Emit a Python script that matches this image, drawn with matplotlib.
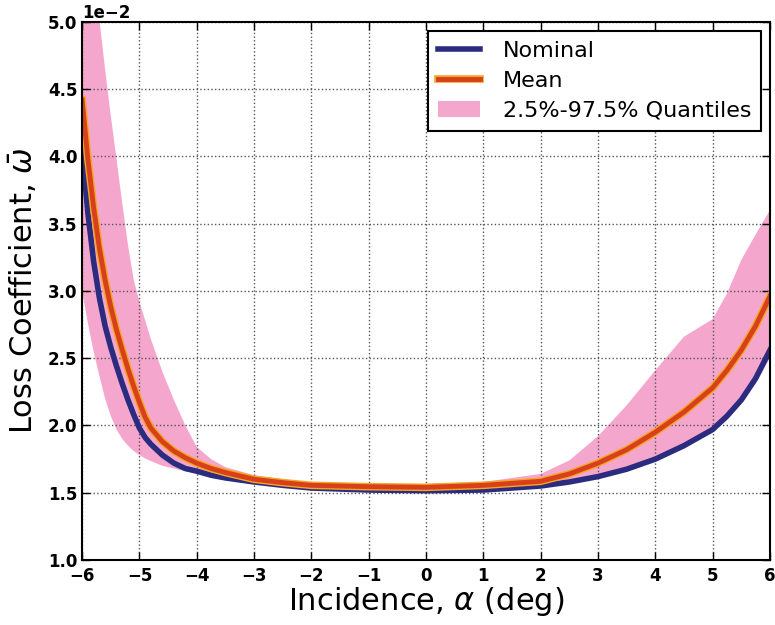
import matplotlib
matplotlib.use("Agg")
import matplotlib.pyplot as plt
import matplotlib.patheffects as pe
import numpy as np

# incidence angle (deg)
alpha = [-6, -5.9, -5.8, -5.7, -5.6, -5.5, -5.4, -5.3, -5.2, -5.1, -5, -4.9, -4.8,
         -4.6, -4.4, -4.2, -4, -3.75, -3.5, -3, -2.5, -2, -1, 0, 1, 2, 2.5, 3,
         3.5, 4, 4.5, 5, 5.25, 5.5, 5.75, 6]
# loss coefficient values (x1e-2)
nominal = [4.05, 3.58, 3.22, 2.95, 2.74, 2.58, 2.44, 2.31, 2.19, 2.08, 1.98, 1.91, 1.86,
           1.78, 1.72, 1.68, 1.66, 1.63, 1.61, 1.58, 1.555, 1.535, 1.52, 1.515, 1.52, 1.55, 1.58, 1.62,
           1.675, 1.75, 1.85, 1.97, 2.07, 2.19, 2.35, 2.56]
mean = [4.42, 3.98, 3.62, 3.32, 3.08, 2.88, 2.71, 2.56, 2.42, 2.29, 2.17, 2.06, 1.98,
        1.88, 1.81, 1.76, 1.72, 1.68, 1.65, 1.60, 1.575, 1.555, 1.545, 1.54, 1.555, 1.585, 1.64, 1.72,
        1.82, 1.95, 2.10, 2.28, 2.41, 2.56, 2.74, 2.96]
q_low = [3.0, 2.76, 2.55, 2.37, 2.2, 2.07, 1.97, 1.90, 1.85, 1.81, 1.78, 1.755, 1.735,
         1.70, 1.68, 1.66, 1.645, 1.62, 1.60, 1.57, 1.55, 1.53, 1.515, 1.51, 1.515, 1.545, 1.57, 1.61,
         1.66, 1.74, 1.83, 1.95, 2.04, 2.16, 2.31, 2.5]
q_high = [6.2, 5.75, 5.35, 5.02, 4.65, 4.3, 3.98, 3.65, 3.34, 3.08, 2.92, 2.78, 2.64,
          2.40, 2.19, 2.0, 1.84, 1.75, 1.69, 1.63, 1.60, 1.575, 1.56, 1.565, 1.58, 1.64, 1.74, 1.92,
          2.15, 2.41, 2.66, 2.79, 2.98, 3.23, 3.42, 3.6]

x = np.array(alpha)
scale = 1e-2

fig = plt.figure(figsize=(7.75, 6.25), dpi=100)
ax = fig.add_axes([0.106, 0.104, 0.8875, 0.861])

ax.fill_between(x, np.array(q_low) * scale, np.array(q_high) * scale,
                color='#f080b8', alpha=0.7, linewidth=0, label='2.5%-97.5% Quantiles')
ax.plot(x, np.array(nominal) * scale, color='#2b2b80', lw=4, label='Nominal',
        solid_joinstyle='round')
ax.plot(x, np.array(mean) * scale, color='#d8401c', lw=3.5, label='Mean',
        solid_joinstyle='round',
        path_effects=[pe.Stroke(linewidth=5.5, foreground='#f5a623'), pe.Normal()])

ax.set_xlim(-6, 6)
ax.set_ylim(0.01, 0.05)
ax.set_xticks(range(-6, 7))
ax.set_yticks(np.arange(0.01, 0.0501, 0.005))
ax.ticklabel_format(axis='y', style='sci', scilimits=(-2, -2))
ax.yaxis.get_offset_text().set_fontsize(12)
ax.yaxis.get_offset_text().set_fontweight('bold')

ax.grid(True, color='#555555', linestyle=':', linewidth=1)
ax.tick_params(direction='in', length=6, width=1, top=True, right=True, labelsize=12)
ax.tick_params(axis='x', pad=5)
for lbl in ax.get_xticklabels() + ax.get_yticklabels():
    lbl.set_fontweight('bold')
for s in ax.spines.values():
    s.set_linewidth(1.5)

ax.set_xlabel(r'Incidence, $\alpha$ (deg)', fontsize=22, labelpad=0)
ax.set_ylabel(r'Loss Coefficient, $\bar{\omega}$', fontsize=22, labelpad=6)

handles, labels = ax.get_legend_handles_labels()
order = [1, 2, 0]
leg = ax.legend([handles[i] for i in order], [labels[i] for i in order],
                loc='upper right', fontsize=16, fancybox=False, framealpha=1,
                edgecolor='black', borderaxespad=0.4, handlelength=1.9,
                handletextpad=1.0, labelspacing=0.45, borderpad=0.45)
leg.get_frame().set_linewidth(1.5)

fig.savefig('out.png', dpi=100)
